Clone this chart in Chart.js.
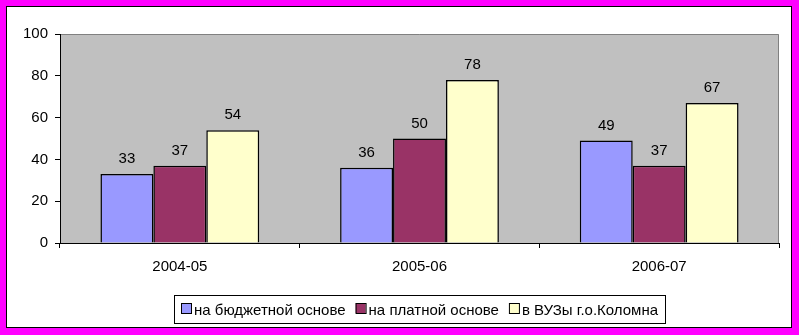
<!DOCTYPE html>
<html>
<head>
<meta charset="utf-8">
<script src="https://cdn.jsdelivr.net/npm/chart.js@4"></script>
<style>
  body { margin: 0; background: #ff00ff; }
  #wrap { width: 799px; height: 335px; }
</style>
</head>
<body>
<div id="wrap"><canvas id="myChart" width="799" height="335"></canvas></div>
<script>
var years = ["2004-05", "2005-06", "2006-07"];
var budget = [33, 36, 49];
var paid = [37, 50, 37];
var vuz = [54, 78, 67];
var yTicks = [0, 20, 40, 60, 80, 100];

var FONT = "Liberation Sans, Arial, sans-serif";

// frame, grey plot area and the legend box
var background = {
  id: "background",
  beforeDraw: function(chart) {
    var ctx = chart.ctx;
    var a = chart.chartArea;
    ctx.save();
    ctx.fillStyle = "#ff00ff";
    ctx.fillRect(0, 0, chart.width, chart.height);
    ctx.fillStyle = "#ffffff";
    ctx.fillRect(6, 6, 786, 322);
    ctx.strokeStyle = "#000";
    ctx.lineWidth = 1;
    ctx.strokeRect(6.5, 6.5, 785, 321);
    ctx.fillStyle = "#c0c0c0";
    ctx.fillRect(a.left, a.top, a.right - a.left, a.bottom - a.top);
    ctx.strokeStyle = "#808080";
    ctx.beginPath();
    ctx.moveTo(a.left, a.top + 0.5);
    ctx.lineTo(a.right - 0.5, a.top + 0.5);
    ctx.lineTo(a.right - 0.5, a.bottom);
    ctx.stroke();
    ctx.restore();
  },
  afterDraw: function(chart) {
    var ctx = chart.ctx;
    var sets = chart.data.datasets;
    ctx.save();
    ctx.font = "15px " + FONT;
    var widths = sets.map(function(ds) { return ctx.measureText(ds.label).width; });
    var total = 0;
    widths.forEach(function(w) { total += 11 + 2 + w; });
    total += 10 * (sets.length - 1);
    var bx = Math.round(420 - total / 2 - 7);
    ctx.strokeStyle = "#000";
    ctx.lineWidth = 1;
    ctx.strokeRect(bx + 0.5, 295.5, Math.round(total + 14), 28);
    var x = bx + 7;
    ctx.textBaseline = "alphabetic";
    ctx.textAlign = "left";
    sets.forEach(function(ds, i) {
      ctx.fillStyle = ds.backgroundColor;
      ctx.fillRect(x, 303, 10, 10);
      ctx.strokeRect(x + 0.5, 303.5, 10, 10);
      ctx.fillStyle = "#000";
      ctx.fillText(ds.label, x + 13, 315);
      x += 13 + widths[i] + 10;
    });
    ctx.restore();
  }
};

// value labels above the bars
var valueLabels = {
  id: "valueLabels",
  afterDatasetsDraw: function(chart) {
    var ctx = chart.ctx;
    ctx.save();
    ctx.font = "15px " + FONT;
    ctx.fillStyle = "#000";
    ctx.textAlign = "center";
    ctx.textBaseline = "alphabetic";
    chart.data.datasets.forEach(function(ds, i) {
      chart.getDatasetMeta(i).data.forEach(function(bar, j) {
        ctx.fillText(ds.data[j], bar.x, bar.y - 11);
      });
    });
    ctx.restore();
  }
};

new Chart("myChart", {
  type: "bar",
  data: {
    labels: years,
    datasets: [
      { label: "на бюджетной основе", data: budget, backgroundColor: "#9999ff" },
      { label: "на платной основе", data: paid, backgroundColor: "#993366" },
      { label: "в ВУЗы г.о.Коломна", data: vuz, backgroundColor: "#ffffcc" }
    ]
  },
  plugins: [background, valueLabels],
  options: {
    responsive: false,
    animation: false,
    layout: { padding: { left: 0, right: 20, top: 34, bottom: 48 } },
    datasets: {
      bar: {
        categoryPercentage: 0.6625,
        barPercentage: 1,
        borderColor: "#000",
        borderWidth: 1.5,
        borderSkipped: "bottom"
      }
    },
    scales: {
      x: {
        grid: { offset: true, drawOnChartArea: false, drawTicks: true, tickLength: 5, color: "#000" },
        border: { color: "#000", width: 1 },
        ticks: { color: "#000", font: { family: FONT, size: 15 }, padding: 10 },
        afterFit: function(s) { s.height = 44; }
      },
      y: {
        min: 0,
        max: 100,
        afterBuildTicks: function(s) { s.ticks = yTicks.map(function(v) { return { value: v }; }); },
        grid: { drawOnChartArea: false, drawTicks: true, tickLength: 5, color: "#000" },
        border: { color: "#000", width: 1 },
        ticks: { color: "#000", font: { family: FONT, size: 15 }, padding: 7 },
        afterFit: function(s) { s.width = 60; }
      }
    },
    plugins: {
      tooltip: { enabled: false },
      legend: { display: false }
    }
  }
});
</script>
</body>
</html>
